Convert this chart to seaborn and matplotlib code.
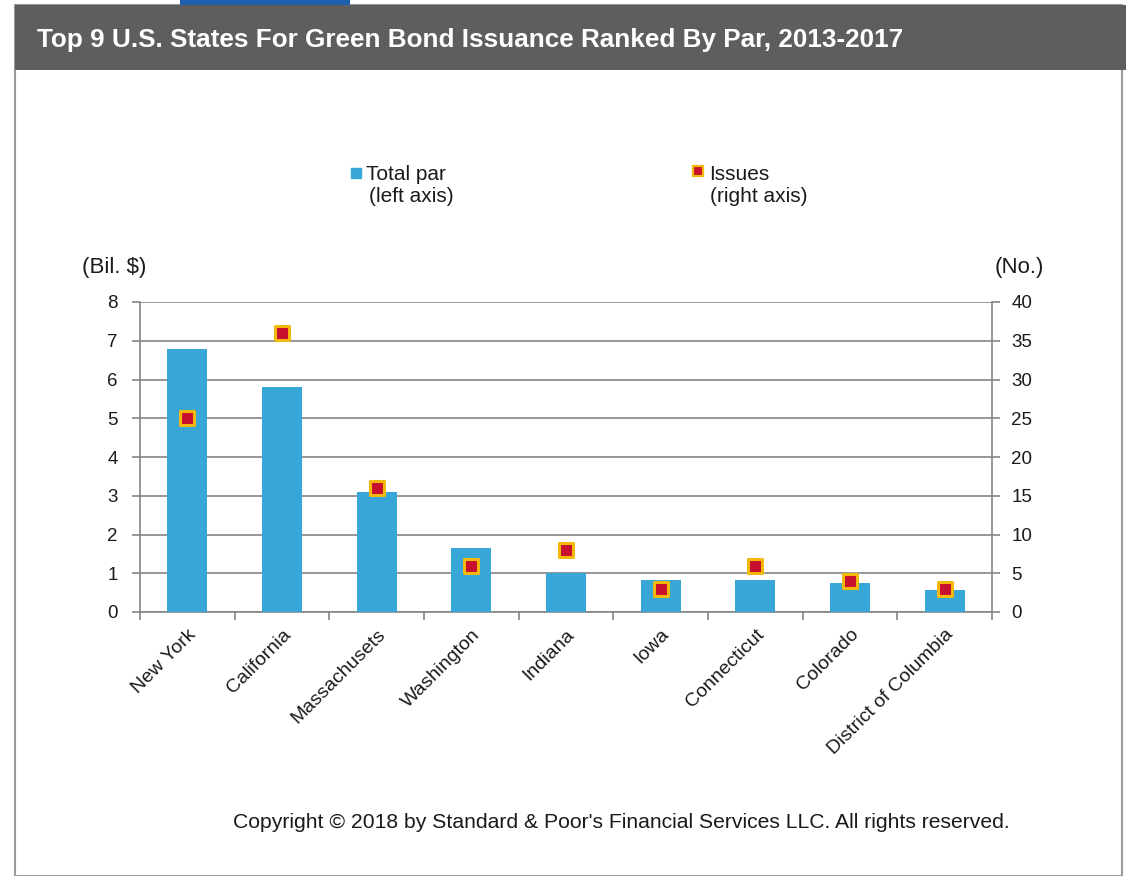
import matplotlib
matplotlib.use("Agg")
import matplotlib.pyplot as plt
from matplotlib.patches import Rectangle
from matplotlib.lines import Line2D
import seaborn as sns
import pandas as pd
import numpy as np

states = ["New York", "California", "Massachusets", "Washington", "Indiana",
          "Iowa", "Connecticut", "Colorado", "District of Columbia"]
total_par = [6.8, 5.8, 3.1, 1.65, 1.0, 0.82, 0.82, 0.75, 0.57]
issues = [25, 36, 16, 6, 8, 3, 6, 4, 3]
left_ticks = list(range(0, 9))
right_ticks = list(range(0, 41, 5))

title = "Top 9 U.S. States For Green Bond Issuance Ranked By Par, 2013-2017"
copyright_note = "Copyright \u00a9 2018 by Standard & Poor's Financial Services LLC. All rights reserved."

BAR = "#38A7D7"
RED = "#C8102E"
GOLD = "#F2B90C"
GRID = "#858585"
TXT = "#1A1A1A"

sns.set_theme(style="white")
plt.rcParams["font.family"] = ["Liberation Sans", "DejaVu Sans"]

df = pd.DataFrame({"state": states, "par": total_par, "issues": issues})

W, H = 1126, 876
fig = plt.figure(figsize=(W / 100, H / 100), dpi=100)
fig.patch.set_facecolor("white")

def fx(px):
    return px / W

def fy(py):
    return 1 - py / H

# page frame and title banner
fig.patches.append(Rectangle((fx(15), fy(876)), fx(1122) - fx(15), fy(5) - fy(876),
                             transform=fig.transFigure, facecolor="none",
                             edgecolor="#9A9A9A", linewidth=1.5, zorder=-5))
fig.patches.append(Rectangle((fx(15), fy(70)), 1 - fx(15), fy(5) - fy(70),
                             transform=fig.transFigure, facecolor="#5E5E5E",
                             edgecolor="none", zorder=-4))
fig.patches.append(Rectangle((fx(180), fy(5)), fx(350) - fx(180), fy(0) - fy(5),
                             transform=fig.transFigure, facecolor="#1F5FB0",
                             edgecolor="none", zorder=-4))
fig.text(fx(37), fy(40), title, color="white", fontsize=18.8, fontweight="bold",
         family=["Liberation Sans Narrow", "Liberation Sans", "DejaVu Sans"],
         ha="left", va="center", zorder=2)

# plotting area
ax = fig.add_axes([fx(140), fy(612), fx(992) - fx(140), fy(302) - fy(612)])
ax.set_facecolor("none")
sns.barplot(data=df, x="state", y="par", color=BAR, width=0.42,
            saturation=1, linewidth=0, ax=ax, zorder=3)
ax.set_ylim(0, 8)
ax.set_xlim(-0.5, len(states) - 0.5)
ax.set_yticks(left_ticks)
ax.set_yticklabels([str(t) for t in left_ticks], fontsize=13.5, color=TXT)
ax.grid(axis="y", color=GRID, linewidth=1.2, zorder=0)
ax.set_axisbelow(True)
ax.set_xlabel("")
ax.set_ylabel("")
for s in ["top", "right"]:
    ax.spines[s].set_visible(False)
for s in ["left", "bottom"]:
    ax.spines[s].set_color(GRID)
    ax.spines[s].set_linewidth(1.2)
ax.tick_params(axis="y", left=True, length=6, width=1.2, color=GRID, pad=10)

# category labels at centres, tick marks at boundaries
ax.set_xticks(np.arange(len(states)))
ax.set_xticklabels(states, rotation=45, ha="right", rotation_mode="anchor",
                   fontsize=14, color=TXT)
ax.tick_params(axis="x", which="major", length=0, pad=10)
ax.set_xticks(np.arange(-0.5, len(states)), minor=True)
ax.tick_params(axis="x", which="minor", bottom=True, length=6, width=1.2, color=GRID)

# issue counts on the secondary axis
ax2 = ax.twinx()
sns.scatterplot(data=df, x="state", y="issues", marker="s", s=110, color=RED,
                edgecolor=GOLD, linewidth=2.2, ax=ax2, zorder=5, legend=False)
ax2.set_ylim(0, 40)
ax2.set_yticks(right_ticks)
ax2.set_yticklabels([str(t) for t in right_ticks], fontsize=13.5, color=TXT)
ax2.set_ylabel("")
ax2.set_xlim(-0.5, len(states) - 0.5)
for s in ["top", "left", "bottom"]:
    ax2.spines[s].set_visible(False)
ax2.spines["right"].set_color(GRID)
ax2.spines["right"].set_linewidth(1.2)
ax2.tick_params(axis="y", right=True, length=6, width=1.2, color=GRID, pad=8)

# axis unit captions
fig.text(fx(82), fy(268), "(Bil. $)", fontsize=16, color=TXT, ha="left", va="center")
fig.text(fx(995), fy(268), "(No.)", fontsize=16, color=TXT, ha="left", va="center")

# legend
fig.add_artist(Line2D([fx(356)], [fy(173)], marker="s", markersize=6.5,
                      color=BAR, linestyle="none", transform=fig.transFigure))
fig.text(fx(366), fy(175), "Total par", fontsize=15, color=TXT, ha="left", va="center")
fig.text(fx(369), fy(197), "(left axis)", fontsize=15, color=TXT, ha="left", va="center")
fig.add_artist(Line2D([fx(698)], [fy(171)], marker="s", markersize=7,
                      color=RED, markeredgecolor=GOLD, markeredgewidth=1.6,
                      linestyle="none", transform=fig.transFigure))
fig.text(fx(709), fy(175), "Issues", fontsize=15, color=TXT, ha="left", va="center")
fig.text(fx(710), fy(197), "(right axis)", fontsize=15, color=TXT, ha="left", va="center")

fig.text(fx(233), fy(822), copyright_note, fontsize=15.2, color=TXT,
         ha="left", va="center")

fig.savefig("out.png", dpi=100)
